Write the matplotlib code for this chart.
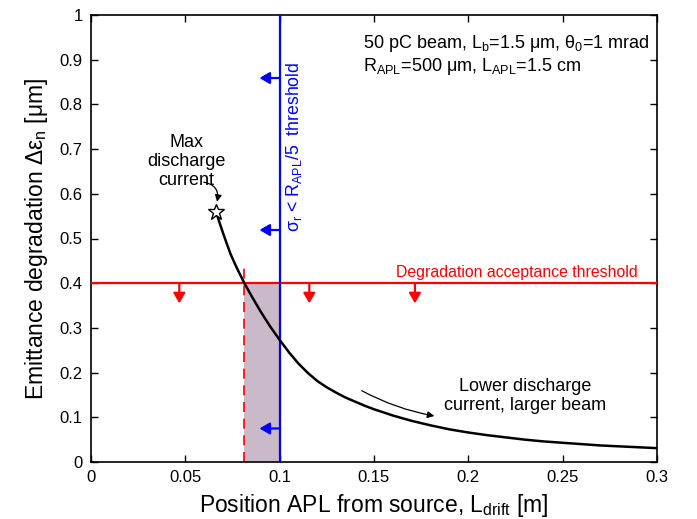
import matplotlib
matplotlib.use('Agg')
import matplotlib.pyplot as plt

plt.rcParams['font.family'] = ['Liberation Sans', 'DejaVu Sans']
plt.rcParams['mathtext.fontset'] = 'custom'
plt.rcParams['mathtext.rm'] = 'Liberation Sans'
plt.rcParams['mathtext.it'] = 'Liberation Sans:italic'

# curve
drift = [0.0663, 0.068, 0.070, 0.072, 0.074, 0.076, 0.078, 0.080, 0.0813,
         0.085, 0.090, 0.095, 0.100, 0.105, 0.110, 0.115, 0.120, 0.125,
         0.130, 0.135, 0.140, 0.145, 0.150, 0.160, 0.170, 0.180, 0.190,
         0.200, 0.210, 0.220, 0.230, 0.240, 0.250, 0.260, 0.270, 0.280,
         0.290, 0.300]
degradation = [0.560, 0.537, 0.512, 0.488, 0.465, 0.446, 0.428, 0.411, 0.400,
               0.372, 0.336, 0.303, 0.273, 0.245, 0.220, 0.199, 0.181, 0.167,
               0.155, 0.144, 0.135, 0.126, 0.118, 0.104, 0.092, 0.082, 0.073,
               0.066, 0.060, 0.055, 0.050, 0.046, 0.043, 0.040, 0.037, 0.035,
               0.033, 0.031]

accept_threshold = 0.4
sigma_threshold = 0.1
drift_min = 0.0813

blue_arrow_y = [0.859, 0.519, 0.075]
red_arrow_x = [0.0468, 0.1157, 0.1717]

x_ticks = [0, 0.05, 0.1, 0.15, 0.2, 0.25, 0.3]
x_labels = ['0', '0.05', '0.1', '0.15', '0.2', '0.25', '0.3']
y_ticks = [0, 0.1, 0.2, 0.3, 0.4, 0.5, 0.6, 0.7, 0.8, 0.9, 1]
y_labels = ['0', '0.1', '0.2', '0.3', '0.4', '0.5', '0.6', '0.7', '0.8', '0.9', '1']

fig = plt.figure(figsize=(6.97, 5.19), dpi=100)
ax = fig.add_axes([91 / 697, 1 - 462 / 519, 566 / 697, 447 / 519])

# accepted region
ax.fill_between([drift_min, sigma_threshold], 0, accept_threshold,
                color='#c9b9c9', lw=0, zorder=1)
ax.plot([drift_min, drift_min], [0, 0.44], color='red', ls=(0, (6, 4)), lw=1.2, zorder=2)

ax.axhline(accept_threshold, color='red', lw=1.6, zorder=3)
ax.axvline(sigma_threshold, color='blue', lw=1.6, zorder=3)

for y in blue_arrow_y:
    ax.annotate('', xy=(0.0893, y), xytext=(sigma_threshold, y),
                arrowprops=dict(arrowstyle='-|>,head_length=0.6,head_width=0.35',
                                color='blue', lw=1.6, shrinkA=0, shrinkB=0), zorder=4)
for x in red_arrow_x:
    ax.annotate('', xy=(x, 0.355), xytext=(x, accept_threshold),
                arrowprops=dict(arrowstyle='-|>,head_length=0.6,head_width=0.35',
                                color='red', lw=1.6, shrinkA=0, shrinkB=0), zorder=4)

ax.plot(drift, degradation, color='black', lw=1.8, zorder=5)
ax.plot(drift[0], degradation[0], marker='*', ms=12, mfc='white', mec='black',
        mew=1.0, zorder=6)

ax.text(0.0505, 0.673, 'Max\ndischarge\ncurrent', ha='center', va='center',
        fontsize=13, linespacing=1.15)
ax.annotate('', xy=(0.0668, 0.582), xytext=(0.0598, 0.626),
            arrowprops=dict(arrowstyle='-|>,head_length=0.4,head_width=0.2',
                            color='black', lw=0.9, shrinkA=0, shrinkB=0,
                            connectionstyle='arc3,rad=-0.5'))

ax.text(0.2303, 0.148, 'Lower discharge\ncurrent, larger beam', ha='center',
        va='center', fontsize=13, linespacing=1.15)
ax.annotate('', xy=(0.182, 0.103), xytext=(0.1435, 0.1595),
            arrowprops=dict(arrowstyle='-|>,head_length=0.4,head_width=0.2',
                            color='black', lw=0.9, shrinkA=0, shrinkB=0,
                            connectionstyle='arc3,rad=0.08'))

ax.text(0.2258, 0.425, 'Degradation acceptance threshold', color='red',
        ha='center', va='center', fontsize=11.4)
ax.text(0.1075, 0.706, 'σ$_{\\mathrm{r}}$ < R$_{\\mathrm{APL}}$/5  threshold',
        color='blue', rotation=90, ha='center', va='center', fontsize=12.7)

ax.text(0.1442, 0.91, '50 pC beam, L$_{\\mathrm{b}}$=1.5 μm, θ$_{\\mathrm{0}}$=1 mrad\n'
        'R$_{\\mathrm{APL}}$=500 μm, L$_{\\mathrm{APL}}$=1.5 cm',
        ha='left', va='center', fontsize=13, linespacing=1.15)

ax.set_xlim(0, 0.3)
ax.set_ylim(0, 1)
ax.set_xticks(x_ticks)
ax.set_xticklabels(x_labels)
ax.set_yticks(y_ticks)
ax.set_yticklabels(y_labels)
ax.tick_params(direction='in', top=True, right=True, labelsize=12, length=5,
               width=1, pad=6)
for s in ax.spines.values():
    s.set_linewidth(1.2)

ax.set_xlabel('Position APL from source, L$_{\\mathrm{drift}}$ [m]', fontsize=16.5,
              labelpad=5)
ax.set_ylabel('Emittance degradation Δε$_{\\mathrm{n}}$ [μm]', fontsize=16.5,
              labelpad=7)

fig.savefig('out.png', dpi=100)
